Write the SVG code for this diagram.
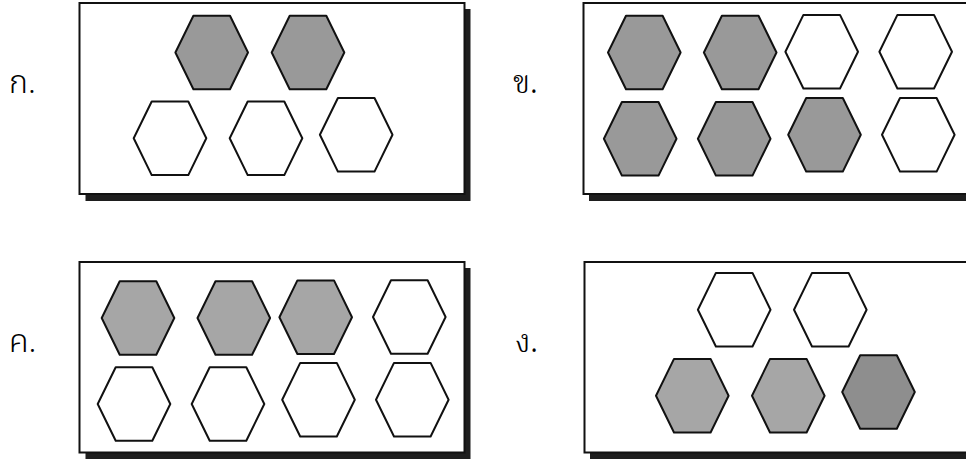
<svg xmlns="http://www.w3.org/2000/svg" width="966" height="459" viewBox="0 0 966 459">
<style>
.shadow{fill:#1e1e1e}
.box{fill:#fff;stroke:#111;stroke-width:2}
.g{fill:#999999}
.g2{fill:#a6a6a6}
.g3{fill:#8e8e8e}
.w{fill:#fff}
.lbl{font-family:"Noto Sans Thai","Tahoma","DejaVu Sans","Noto Sans",sans-serif;font-size:32px;font-weight:350;fill:#000}
.lbl2{font-family:"Noto Serif Thai","Noto Sans Thai Looped","Noto Sans Thai","DejaVu Serif",serif;font-size:32px;font-weight:350;fill:#000}
</style>
<defs>
<polygon id="hex" points="-36.3,0 -18.3,-36.8 18.3,-36.8 36.3,0 18.3,36.8 -18.3,36.8" stroke="#111" stroke-width="2" stroke-linejoin="round"/>
</defs>
<rect width="966" height="459" fill="#fff"/>

<g id="panel-a">
<rect class="shadow" x="85.5" y="9" width="385" height="192"/>
<rect class="box" x="79.5" y="3" width="385" height="191"/>
<text class="lbl" x="9" y="93">ก.</text>
<use href="#hex" x="211.7" y="52.5" class="g"/>
<use href="#hex" x="308" y="52.5" class="g"/>
<use href="#hex" x="170" y="138.3" class="w"/>
<use href="#hex" x="266" y="138.3" class="w"/>
<use href="#hex" x="356.2" y="134.8" class="w"/>
</g>

<g id="panel-b">
<rect class="shadow" x="589" y="9" width="380" height="192"/>
<rect class="box" x="583.5" y="3" width="390" height="191"/>
<text class="lbl2" x="513" y="93">ข.</text>
<use href="#hex" x="644.3" y="52.5" class="g"/>
<use href="#hex" x="740.2" y="52.5" class="g"/>
<use href="#hex" x="821.7" y="51.7" class="w"/>
<use href="#hex" x="915.7" y="51.7" class="w"/>
<use href="#hex" x="640.2" y="138.8" class="g"/>
<use href="#hex" x="734.2" y="138.8" class="g"/>
<use href="#hex" x="824.5" y="134.8" class="g"/>
<use href="#hex" x="918.3" y="134.8" class="w"/>
</g>

<g id="panel-c">
<rect class="shadow" x="85.5" y="268" width="385" height="191"/>
<rect class="box" x="79.5" y="262" width="385" height="190.5"/>
<text class="lbl" x="9" y="352">ค.</text>
<use href="#hex" x="138" y="318" class="g2"/>
<use href="#hex" x="233.8" y="318" class="g2"/>
<use href="#hex" x="315.7" y="317.2" class="g2"/>
<use href="#hex" x="409.3" y="317" class="w"/>
<use href="#hex" x="134" y="404" class="w"/>
<use href="#hex" x="228" y="404" class="w"/>
<use href="#hex" x="318.5" y="399.7" class="w"/>
<use href="#hex" x="412.3" y="399.7" class="w"/>
</g>

<g id="panel-d">
<rect class="shadow" x="590" y="268" width="380" height="191"/>
<rect class="box" x="584.5" y="262" width="390" height="190.5"/>
<text class="lbl2" x="515" y="352">ง.</text>
<use href="#hex" x="734.2" y="309.7" class="w"/>
<use href="#hex" x="830.3" y="309.7" class="w"/>
<use href="#hex" x="692.3" y="395.7" class="g2"/>
<use href="#hex" x="788.3" y="395.7" class="g2"/>
<use href="#hex" x="878.5" y="392" class="g3"/>
</g>
</svg>
